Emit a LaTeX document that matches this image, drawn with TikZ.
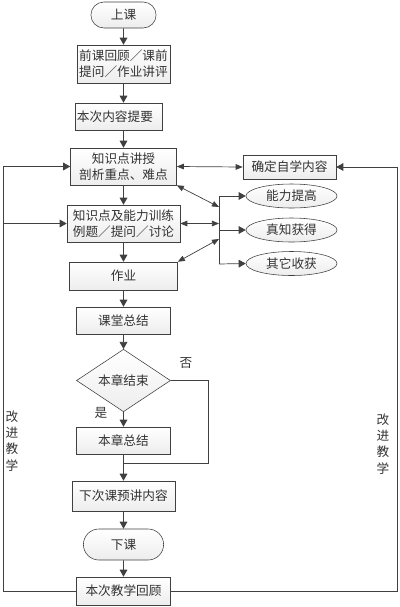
\documentclass[tikz,border=0pt]{standalone}
\usepackage{fontspec}
\newfontfamily\cjk{Noto Sans CJK SC}
\usetikzlibrary{shapes.geometric, shapes.misc, arrows.meta, positioning, calc}

\begin{document}
\begin{tikzpicture}[x=0.025cm, y=-0.025cm,
    every node/.style={font=\cjk\fontsize{9pt}{11.5pt}\selectfont, text=black!80},
    box/.style={rectangle, draw=black!75, top color=white, bottom color=gray!14, align=center, inner sep=1pt},
    term/.style={rounded rectangle, draw=black!75, top color=white, bottom color=gray!14, inner sep=1pt},
    oval/.style={ellipse, draw=black!75, top color=white, bottom color=gray!14, minimum width=2.275cm, minimum height=0.6cm, inner sep=0pt},
    decide/.style={diamond, draw=black!75, top color=white, bottom color=gray!14, minimum width=2.35cm, minimum height=1.375cm, inner sep=0pt},
    line/.style={draw=black!75, line width=0.5pt},
    flow/.style={line, -{Triangle[length=5pt, width=5.5pt]}},
    both/.style={line, {Triangle[length=5pt, width=4pt]}-{Triangle[length=5pt, width=4pt]}}
]
\useasboundingbox (0,0) rectangle (400,607);

% Main column
\node[term, minimum width=1.7cm, minimum height=0.65cm] at (123.5,15) (start) {上课};
\node[box, minimum width=2.325cm, minimum height=0.95cm] at (123.5,64) (prev) {前课回顾／课前\\提问／作业讲评};
\node[box, text width=2.1cm, align=left, minimum height=0.675cm] at (119,116.5) (brief) {本次内容提要};
\node[box, minimum width=2.65cm, minimum height=0.925cm] at (123.5,166.5) (teach) {知识点讲授\\剖析重点、难点};
\node[box, minimum width=2.825cm, minimum height=0.925cm] at (123.5,223.5) (train) {知识点及能力训练\\例题／提问／讨论};
\node[box, minimum width=2.7cm, minimum height=0.7cm] at (123.5,276) (hw) {作业};
\node[box, minimum width=2.35cm, minimum height=0.675cm] at (123.5,320.5) (wrap) {课堂总结};
\node[decide] at (123.5,380.5) (chend) {本章结束};
\node[box, minimum width=2.35cm, minimum height=0.675cm] at (123.5,440.5) (chsum) {本章总结};
\node[box, minimum width=2.575cm, minimum height=0.75cm] at (123.5,496) (next) {下次课预讲内容};
\node[term, minimum width=2.075cm, minimum height=0.775cm] at (123.5,544.5) (stop) {下课};
\node[box, minimum width=2.35cm, minimum height=0.7cm] at (123.5,591) (review) {本次教学回顾};

% Right side
\node[box, minimum width=2.325cm, minimum height=0.6cm] at (289.5,167) (self) {确定自学内容};
\node[oval] at (291.5,196) (gain1) {能力提高};
\node[oval] at (291.5,230) (gain2) {真知获得};
\node[oval] at (291.5,263.5) (gain3) {其它收获};

% Main flow
\draw[flow] (start) -- (prev);
\draw[flow] (prev.south) -- (prev.south |- brief.north);
\draw[flow] (prev.south |- brief.south) -- (teach.north);
\draw[flow] (teach) -- (train);
\draw[flow] (train) -- (hw);
\draw[flow] (hw) -- (wrap);
\draw[flow] (wrap) -- (chend);
\draw[flow] (chend) -- (chsum);
\draw[flow] (chsum) -- (next);
\draw[flow] (next) -- (stop);
\draw[flow] (stop) -- (review);

% No branch
\coordinate (nobr) at (208,463);
\draw[line] (chend.east) -| (nobr) -- (chsum.south |- nobr);
\node at (186,363) (nolbl) {否};
\node at (101,413) (yeslbl) {是};

% Gains
\coordinate (ja) at (219,196);
\coordinate (jb) at (219,264);
\coordinate (j1) at (219,207);
\coordinate (j2) at (219,223.5);
\coordinate (j3) at (219,239);
\draw[line] (ja) -- (jb);
\draw[flow] (ja) -- (gain1.west);
\draw[flow] (ja |- gain2) -- (gain2.west);
\draw[flow] (jb) -- (gain3.west);
\draw[both] (teach.south east) -- (j1);
\draw[both] (train.east) -- (j2);
\draw[both] (hw.north east) -- (j3);
\draw[both] (teach.east) -- (self.west);

% Feedback loops
\coordinate (lt) at (3,166.5);
\coordinate (rt) at (397,167);
\draw[flow] (review.west) -| (lt) -- (teach.west);
\draw[flow] (lt |- train.west) -- (train.west);
\draw[flow] (review.east) -| (rt) -- (self.east);
\node[align=center] at (12,441) (lfix) {改\\进\\教\\学};
\node[align=center] at (383,444) (rfix) {改\\进\\教\\学};

\end{tikzpicture}
\end{document}
